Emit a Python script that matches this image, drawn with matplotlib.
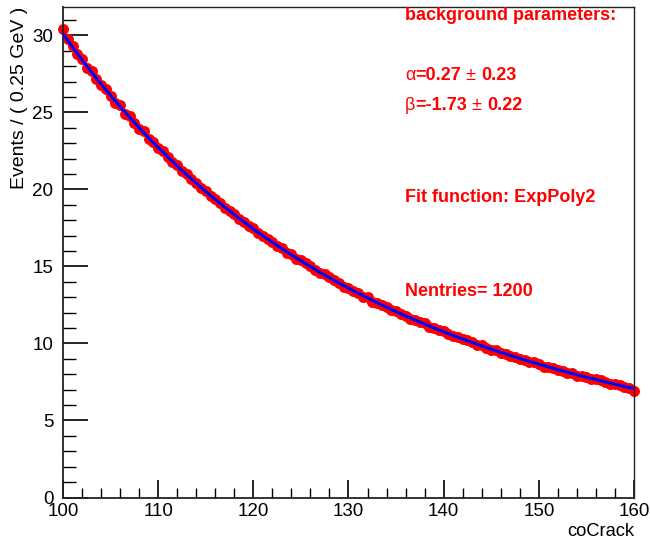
import numpy as np
import matplotlib
matplotlib.use("Agg")
import matplotlib.pyplot as plt
from matplotlib.ticker import MultipleLocator

plt.rcParams['font.family'] = ['Liberation Sans', 'DejaVu Sans']

# ---- data ----
x_start, x_step = 100.0, 0.5
counts = [30.4, 29.8, 29.3, 28.8, 28.5, 27.9, 27.7, 27.2, 26.8, 26.5,
          26.1, 25.6, 25.5, 24.9, 24.8, 24.3, 23.9, 23.8, 23.3, 23.1,
          22.7, 22.5, 22.1, 21.8, 21.6, 21.2, 21.0, 20.7, 20.4, 20.1,
          19.9, 19.6, 19.4, 19.1, 18.8, 18.6, 18.4, 18.1, 17.9, 17.6,
          17.5, 17.2, 17.0, 16.8, 16.6, 16.3, 16.2, 15.9, 15.8, 15.5,
          15.4, 15.2, 15.0, 14.8, 14.6, 14.5, 14.3, 14.1, 13.9, 13.7,
          13.6, 13.4, 13.3, 13.0, 13.0, 12.7, 12.6, 12.5, 12.4, 12.2,
          12.1, 11.9, 11.8, 11.6, 11.5, 11.4, 11.3, 11.1, 11.0, 10.9,
          10.8, 10.6, 10.5, 10.4, 10.3, 10.2, 10.1, 9.9, 9.9, 9.7,
          9.6, 9.6, 9.4, 9.3, 9.2, 9.1, 9.0, 8.9, 8.8, 8.8,
          8.7, 8.5, 8.5, 8.4, 8.3, 8.2, 8.1, 8.1, 7.9, 7.9,
          7.8, 7.7, 7.7, 7.6, 7.5, 7.4, 7.4, 7.3, 7.2, 7.1,
          6.9]
fit_x = list(range(100, 161))
fit_y = [30.10, 29.25, 28.42, 27.62, 26.85, 26.11, 25.39, 24.69, 24.01, 23.36,
         22.73, 22.12, 21.53, 20.96, 20.41, 19.87, 19.35, 18.85, 18.37, 17.90,
         17.44, 17.00, 16.57, 16.16, 15.76, 15.37, 14.99, 14.62, 14.27, 13.93,
         13.59, 13.27, 12.96, 12.65, 12.36, 12.07, 11.79, 11.52, 11.26, 11.01,
         10.76, 10.52, 10.29, 10.07, 9.85, 9.63, 9.43, 9.23, 9.03, 8.84,
         8.66, 8.48, 8.30, 8.14, 7.97, 7.81, 7.66, 7.50, 7.36, 7.21,
         7.07]
x_label = "coCrack"
y_label = "Events / ( 0.25 GeV )"

data_x = x_start + x_step * np.arange(len(counts))

fig = plt.figure(figsize=(6.5, 5.44), dpi=100)
ax = fig.add_axes([63/650, 1-497.5/544, (634-63)/650, (497.5-7)/544])

ax.plot(data_x, counts, 'o', color='#ff0000', markersize=7.9,
        markeredgewidth=0, zorder=2, clip_on=False)
ax.plot(fit_x, fit_y, '-', color='#0000ff', linewidth=2.2, zorder=3)

ax.set_xlim(100, 160)
ax.set_ylim(0, 31.85)
ax.xaxis.set_major_locator(MultipleLocator(10))
ax.xaxis.set_minor_locator(MultipleLocator(2))
ax.yaxis.set_major_locator(MultipleLocator(5))
ax.yaxis.set_minor_locator(MultipleLocator(1))
ax.tick_params(axis='x', which='major', direction='in', length=13, width=1.2,
               labelsize=13.5, pad=4, top=False)
ax.tick_params(axis='x', which='minor', direction='in', length=7, width=1.0, top=False)
ax.tick_params(axis='y', which='major', direction='in', length=18, width=1.2,
               labelsize=13.5, pad=7, right=False)
ax.tick_params(axis='y', which='minor', direction='in', length=9, width=1.0, right=False)
for sp in ax.spines.values():
    sp.set_linewidth(1.0)
    sp.set_color('#222222')
ax.spines['left'].set_linewidth(1.3)
ax.spines['bottom'].set_linewidth(1.3)

fig.text(20/650, 1-7/544, y_label, rotation=90, ha='center', va='top', fontsize=14)
fig.text(634/650, 1-531/544, x_label, ha='right', va='center', fontsize=13.2)

red = '#ff0000'
fs = 13

def chain(xpix, ypix, pieces):
    t = fig.text(xpix/650, 1-ypix/544, pieces[0][0], color=red, fontsize=fs,
                 fontweight=pieces[0][1], ha='left', va='center')
    for s, w in pieces[1:]:
        t = ax.annotate(s, xy=(1, 0), xycoords=t, color=red, fontsize=fs,
                        fontweight=w, ha='left', va='bottom')
    return t

chain(405, 15.5, [("background parameters:", 'bold')])
chain(405, 76, [("α", 'normal'), ("=0.27", 'bold'), (" ± ", 'normal'), ("0.23", 'bold')])
chain(405, 106, [("β", 'normal'), ("=-1.73", 'bold'), (" ± ", 'normal'), ("0.22", 'bold')])
chain(405, 198, [("Fit function: ExpPoly2", 'bold')])
chain(405, 291, [("Nentries= 1200", 'bold')])

fig.savefig("out.png", dpi=100)
